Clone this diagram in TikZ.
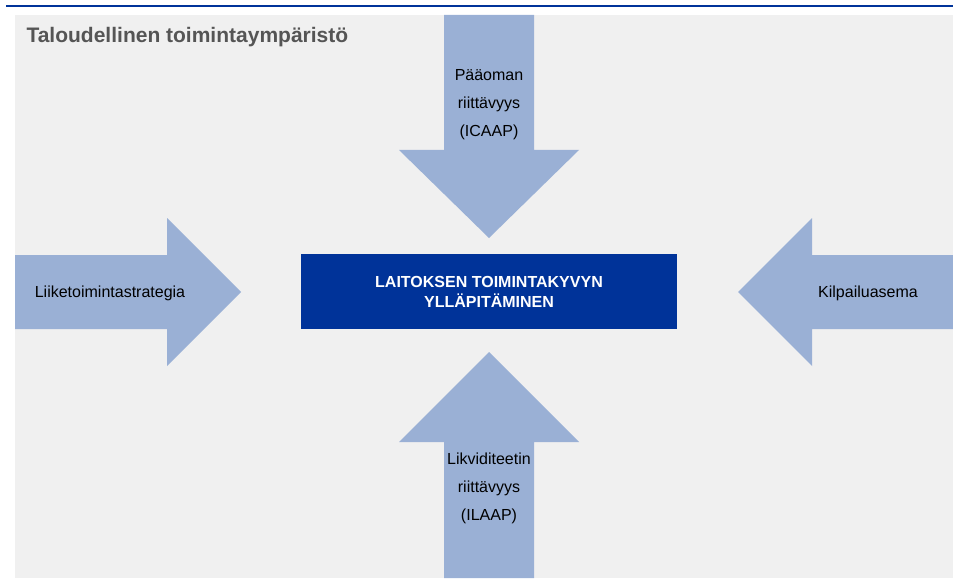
\documentclass[tikz,border=0pt]{standalone}
\usepackage{fontspec}
\setmainfont{Liberation Sans}
\usetikzlibrary{arrows}

\definecolor{bggray}{RGB}{240,240,240}
\definecolor{arrowblue}{RGB}{154,176,213}
\definecolor{darkblue}{RGB}{0,51,153}
\definecolor{titlegray}{RGB}{85,85,85}

\begin{document}
\begin{tikzpicture}[x=1pt, y=-1pt,
  label/.style={align=center, font=\fontsize{16}{28}\selectfont},
  bigarrow/.style={fill=arrowblue}]
\useasboundingbox (0,0) rectangle (953,583);
\fill[bggray] (15,15) rectangle (953,578);
\draw[darkblue, line width=2pt] (6,6) -- (953,6);
\node[anchor=base west, text=titlegray, font=\fontsize{21}{25}\selectfont\bfseries]
  at (23,43) (title) {Taloudellinen toimintaympäristö};
%arrows
\fill[bigarrow] (444,15) -- (534,15) -- (534,150) -- (579,150) -- (489,238)
  -- (399,150) -- (444,150) -- cycle;
\fill[bigarrow] (444,578) -- (534,578) -- (534,442) -- (579,442) -- (489,352)
  -- (399,442) -- (444,442) -- cycle;
\fill[bigarrow] (15,255) -- (167,255) -- (167,218) -- (241,292) -- (167,366)
  -- (167,329) -- (15,329) -- cycle;
\fill[bigarrow] (953,255) -- (812,255) -- (812,218) -- (738,292) -- (812,366)
  -- (812,329) -- (953,329) -- cycle;
\node[label] at (489,105) (capital) {Pääoman\\riittävyys\\(ICAAP)};
\node[label] at (489,488) (liquidity) {Likviditeetin\\riittävyys\\(ILAAP)};
\node[label] at (110,293) (strategy) {Liiketoimintastrategia};
\node[label] at (868,293) (competition) {Kilpailuasema};
%centre box
\node[fill=darkblue, text=white, minimum width=376pt, minimum height=75pt,
  align=center, font=\fontsize{16}{20}\selectfont\bfseries]
  at (489,291.5) (core) {LAITOKSEN TOIMINTAKYVYN\\YLLÄPITÄMINEN};
\end{tikzpicture}
\end{document}
